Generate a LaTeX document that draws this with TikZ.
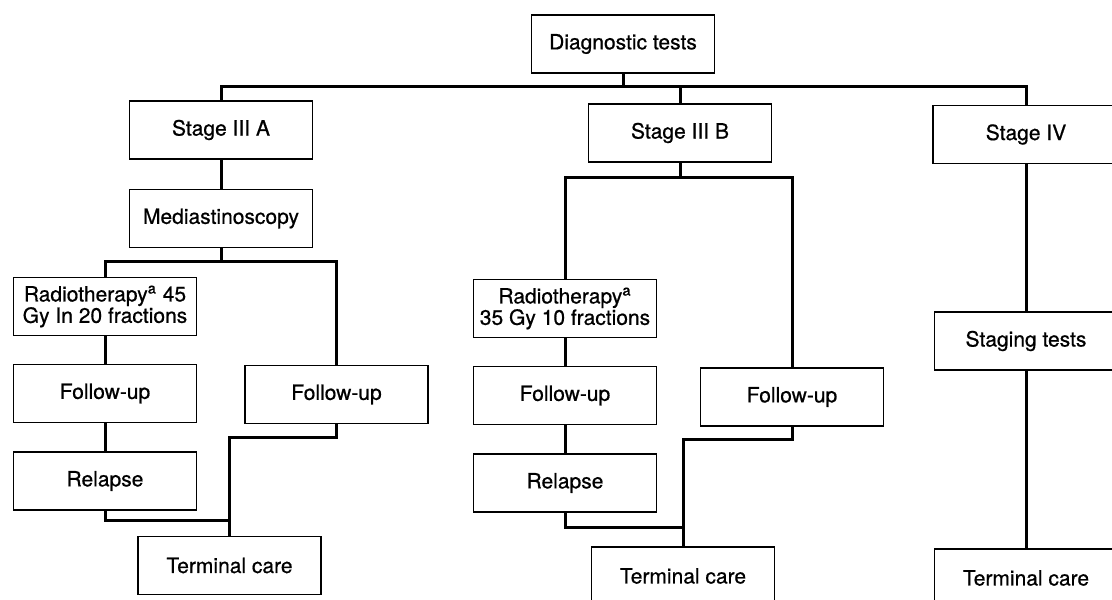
\documentclass[tikz,border=0pt]{standalone}
\usepackage{fontspec}
\setmainfont{TeX Gyre Heros}[FakeBold=0.7]

\tikzset{
  box/.style={draw, line width=0.6pt, minimum width=91.5pt, minimum height=29pt,
    inner sep=0pt, align=center, font=\fontsize{10.5}{10.7}\selectfont},
  link/.style={line width=1.5pt}
}

\begin{document}
\begin{tikzpicture}[x=0.5pt, y=0.5pt]
  \path[use as bounding box, clip] (0,0) rectangle (1112,599);

  % Top level
  \node[box] (diag) at (623,555) {Diagnostic tests};

  % Stages
  \node[box] (s3a) at (221,469) {Stage III A};
  \node[box] (s3b) at (680,466) {Stage III B};
  \node[box, minimum width=93pt] (s4) at (1026,464.5) {Stage IV};

  % Stage III A branch
  \node[box] (med) at (221,380.5) {Mediastinoscopy};
  \node[box] (radA) at (105,292.5) {Radiotherapy\textsuperscript{a} 45\\Gy In 20 fractions};
  \node[box] (fupA1) at (105,205.5) {Follow-up};
  \node[box] (relA) at (105,118) {Relapse};
  \node[box] (fupA2) at (336.5,204.5) {Follow-up};
  \node[box] (termA) at (229.5,33.5) {Terminal care};

  % Stage III B branch
  \node[box] (radB) at (565,290.5) {Radiotherapy\textsuperscript{a}\\35 Gy 10 fractions};
  \node[box] (fupB1) at (565,203.5) {Follow-up};
  \node[box] (relB) at (565,116) {Relapse};
  \node[box] (fupB2) at (792,202) {Follow-up};
  \node[box] (termB) at (683,23) {Terminal care};

  % Stage IV branch
  \node[box] (stag) at (1026,258) {Staging tests};
  \node[box] (termC) at (1026,21) {Terminal care};

  % Junctions
  \coordinate (bus) at (623,512);
  \coordinate (busA) at (221,337);
  \coordinate (busB) at (680,421);
  \coordinate (kneeA) at (229.5,161);
  \coordinate (joinA) at (229.5,78);
  \coordinate (kneeB) at (683,159);
  \coordinate (joinB) at (683,71);

  % Diagnostic tests to stages
  \draw[link] (diag) -- (bus);
  \draw[link] (s3a) |- (bus) -| (s4);
  \draw[link] (bus -| s3b) -- (s3b);

  % Stage III A
  \draw[link] (s3a) -- (med);
  \draw[link] (med) -- (busA);
  \draw[link] (radA) |- (busA) -| (fupA2);
  \draw[link] (radA) -- (fupA1);
  \draw[link] (fupA1) -- (relA);
  \draw[link] (fupA2) |- (kneeA) -- (termA);
  \draw[link] (relA) |- (joinA);

  % Stage III B
  \draw[link] (s3b) -- (busB);
  \draw[link] (radB) |- (busB) -| (fupB2);
  \draw[link] (radB) -- (fupB1);
  \draw[link] (fupB1) -- (relB);
  \draw[link] (fupB2) |- (kneeB) -- (termB);
  \draw[link] (relB) |- (joinB);

  % Stage IV
  \draw[link] (s4) -- (stag);
  \draw[link] (stag) -- (termC);
\end{tikzpicture}
\end{document}
